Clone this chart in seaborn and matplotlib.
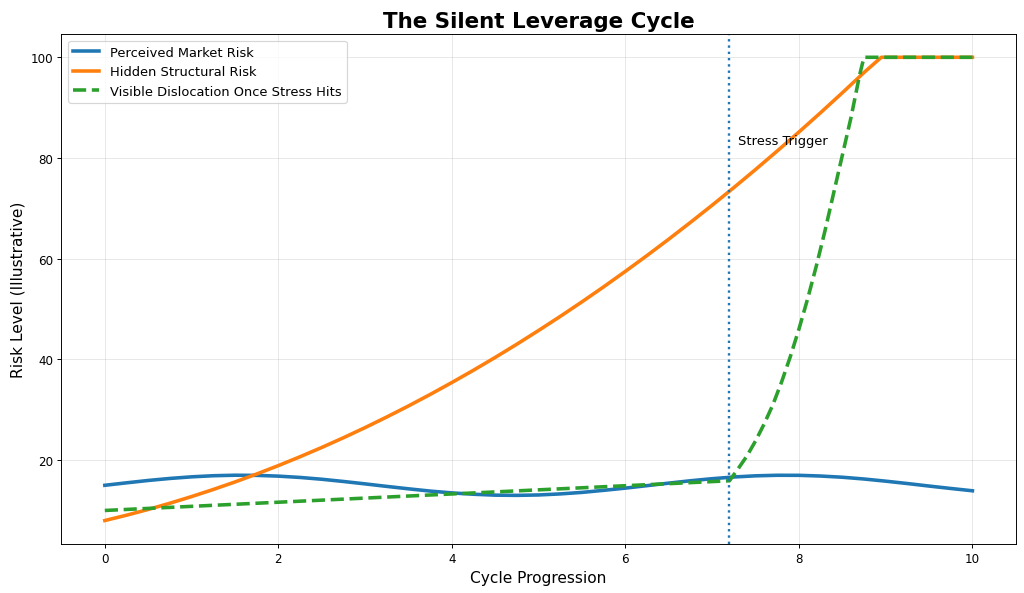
import numpy as np
import pandas as pd
import matplotlib
matplotlib.use("Agg")
import matplotlib.pyplot as plt
import seaborn as sns

# -------------------------
# Data
# -------------------------

cycle_x = [0.0, 0.25, 0.5, 0.75, 1.0, 1.25, 1.5, 1.75, 2.0, 2.25, 2.5,
           2.75, 3.0, 3.25, 3.5, 3.75, 4.0, 4.25, 4.5, 4.75, 5.0,
           5.25, 5.5, 5.75, 6.0, 6.25, 6.5, 6.75, 7.0, 7.25, 7.5,
           7.75, 8.0, 8.25, 8.5, 8.75, 9.0, 9.25, 9.5, 9.75, 10.0]

perceived_risk = [15.00, 15.49, 15.96, 16.36, 16.68, 16.90, 17.00, 16.97, 16.82, 16.56, 16.20,
                  15.76, 15.28, 14.78, 14.30, 13.85, 13.49, 13.22, 13.04, 13.00, 13.08,
                  13.29, 13.59, 14.00, 14.44, 14.93, 15.43, 15.90, 16.31, 16.65, 16.88,
                  16.99, 16.98, 16.84, 16.60, 16.25, 15.82, 15.35, 14.85, 14.37, 13.91]

hidden_x = [0.0, 0.25, 0.5, 0.75, 1.0, 1.25, 1.5, 1.75, 2.0, 2.25, 2.5,
            2.75, 3.0, 3.25, 3.5, 3.75, 4.0, 4.25, 4.5, 4.75, 5.0,
            5.25, 5.5, 5.75, 6.0, 6.25, 6.5, 6.75, 7.0, 7.25, 7.5,
            7.75, 8.0, 8.25, 8.5, 8.75, 8.95, 9.5, 10.0]
hidden_risk = [8.00, 9.06, 10.20, 11.44, 12.76, 14.17, 15.66, 17.24, 18.91, 20.67, 22.51,
               24.44, 26.46, 28.57, 30.76, 33.04, 35.41, 37.86, 40.40, 43.03, 45.75,
               48.55, 51.44, 54.42, 57.49, 60.64, 63.88, 67.21, 70.62, 74.12, 77.71,
               81.39, 85.15, 89.00, 92.94, 96.97, 100.0, 100.0, 100.0]

dislocation_x = [0.0, 7.2, 7.3, 7.4, 7.5, 7.6, 7.7, 7.8, 7.9, 8.0, 8.1,
                 8.2, 8.3, 8.4, 8.5, 8.6, 8.7, 8.75, 9.5, 10.0]
dislocation = [10.0, 15.9, 18.3, 20.8, 23.8, 27.2, 31.0, 35.5, 40.5, 46.0, 52.0,
               58.5, 65.5, 73.0, 80.5, 88.0, 96.5, 100.0, 100.0, 100.0]

stress_trigger = 7.2
series_names = ["Perceived Market Risk", "Hidden Structural Risk",
                "Visible Dislocation Once Stress Hits"]


def main():
    fig, ax = plt.subplots(figsize=(12, 6.96), dpi=1024 / 12)

    sns.lineplot(x=cycle_x, y=perceived_risk, ax=ax, color="#1f77b4",
                 linewidth=3, label=series_names[0])
    sns.lineplot(x=hidden_x, y=hidden_risk, ax=ax, color="#ff7f0e",
                 linewidth=3, label=series_names[1])
    sns.lineplot(x=dislocation_x, y=dislocation, ax=ax, color="#2ca02c",
                 linewidth=3, linestyle="--", label=series_names[2])

    ax.axvline(stress_trigger, color="#1f77b4", linestyle=":", linewidth=2)
    ax.text(stress_trigger + 0.1, 82.7, "Stress Trigger", fontsize=11)

    ax.set_title("The Silent Leverage Cycle", fontsize=18, fontweight="bold")
    ax.set_xlabel("Cycle Progression", fontsize=13)
    ax.set_ylabel("Risk Level (Illustrative)", fontsize=13)
    ax.grid(True, alpha=0.3)
    ax.legend(loc="upper left", fontsize=11)

    plt.subplots_adjust(left=0.06, right=0.992, top=0.941, bottom=0.083)
    plt.savefig("out.png", dpi=1024 / 12)


if __name__ == "__main__":
    main()
